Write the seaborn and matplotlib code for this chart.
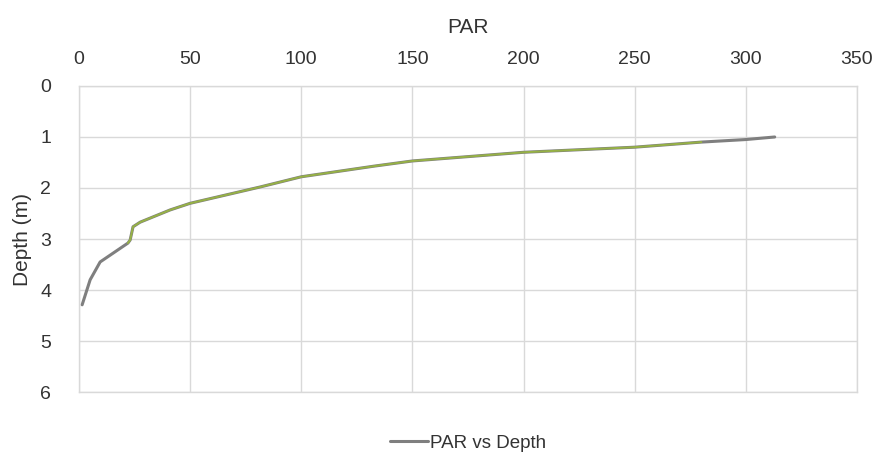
import matplotlib
matplotlib.use("Agg")
import matplotlib.pyplot as plt
import seaborn as sns
import pandas as pd

# -------------------- DATA --------------------
par = [313, 300, 280, 250, 200, 150, 133, 100, 81.5, 50, 41, 27.5, 24.3, 23, 22, 9.5, 5, 1.4]
depth = [1.0, 1.05, 1.1, 1.2, 1.3, 1.47, 1.57, 1.78, 1.98, 2.3, 2.43, 2.67, 2.76, 3.02, 3.08, 3.45, 3.8, 4.29]
x_ticks = [0, 50, 100, 150, 200, 250, 300, 350]
y_ticks = [0, 1, 2, 3, 4, 5, 6]

df = pd.DataFrame({"PAR": par, "Depth": depth})
# middle part of the profile shows a green tint in the original
df_mid = df[(df["PAR"] > 20) & (df["PAR"] < 285)]

# -------------------- PLOT --------------------
sns.set_style("white")
plt.rcParams["font.family"] = ["Liberation Sans", "DejaVu Sans"]

fig = plt.figure(figsize=(8.84, 4.63), dpi=100)
ax = fig.add_axes([0.0894, 0.1533, 0.880, 0.661])

sns.lineplot(data=df, x="PAR", y="Depth", sort=False, estimator=None,
             color="#7f7f7f", linewidth=2.2, label="PAR vs Depth", ax=ax)
sns.lineplot(data=df_mid, x="PAR", y="Depth", sort=False, estimator=None,
             color="#9bbb3b", linewidth=1.4, alpha=0.85, legend=False, ax=ax)

ax.set_xlim(0, 350)
ax.set_ylim(6, 0)
ax.set_xticks(x_ticks)
ax.set_yticks(y_ticks)
ax.xaxis.tick_top()
ax.xaxis.set_label_position("top")
ax.set_xlabel("PAR", fontsize=15, color="#333333", labelpad=13)
ax.set_ylabel("Depth (m)", fontsize=15, color="#333333", labelpad=6)
ax.tick_params(axis="x", length=0, labelsize=14, labelcolor="#333333", pad=13)
ax.tick_params(axis="y", length=0, labelsize=14, labelcolor="#333333", pad=20)

ax.grid(True, color="#d9d9d9", linewidth=1)
for s in ax.spines.values():
    s.set_color("#d9d9d9")
    s.set_linewidth(1)

ax.legend(loc="upper center", bbox_to_anchor=(0.5, -0.085), frameon=False,
          fontsize=13.5, handlelength=2.0, handletextpad=0.1,
          labelcolor="#333333")

fig.savefig("out.png", dpi=100)
